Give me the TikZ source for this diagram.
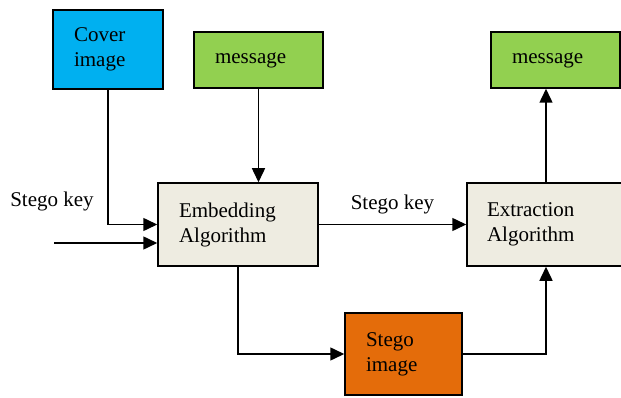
\documentclass[tikz,border=0pt]{standalone}
\usepackage{fontspec}
\setmainfont{Liberation Serif}
\usetikzlibrary{arrows.meta}
\definecolor{coverblue}{RGB}{0,176,240}
\definecolor{msggreen}{RGB}{146,208,80}
\definecolor{algobeige}{RGB}{238,236,225}
\definecolor{stegoorange}{RGB}{228,108,10}
\begin{document}
\begin{tikzpicture}[x=1pt,y=-1pt,
    every node/.style={font=\fontsize{21}{25}\selectfont},
    box/.style={draw=black, line width=1.5pt, align=left, inner xsep=21pt, inner ysep=0pt},
    arr/.style={line width=1.5pt, -{Triangle[length=14pt,width=13pt]}}]
  \useasboundingbox (0,0) rectangle (621,398);
  % boxes
  \node[box, fill=coverblue, text width=68pt, minimum height=79pt] (cover) at (108,49.5) {Cover\\image};
  \node[box, fill=msggreen, text width=87pt, minimum height=56pt] (msgone) at (258.5,60) {message};
  \node[box, fill=msggreen, text width=87pt, minimum height=56pt] (msgtwo) at (555.5,60) {message};
  \node[box, fill=algobeige, text width=118pt, minimum height=83pt] (emb) at (238,224.5) {Embedding\\Algorithm};
  \node[box, fill=algobeige, inner xsep=20pt, text width=125pt, minimum height=83pt] (extract) at (549.5,224.5) {Extraction\\Algorithm};
  \node[box, fill=stegoorange, text width=75pt, minimum height=82pt] (stego) at (403.5,354) {Stego\\image};
  \node (keytxt) at (52,201) {Stego key};
  \coordinate (keyin) at (54,243);
  \coordinate (upx) at (546,0);
  % connectors
  \draw[arr] (cover.south) |- (emb.west);
  \draw[arr] (keyin) -- (keyin -| emb.west);
  \draw[arr] (msgone.south) -- (msgone.south |- emb.north);
  \draw[arr] (emb.east) -- node[above=6pt] (keylbl) {Stego key} (extract.west);
  \draw[arr] (emb.south) |- (stego.west);
  \draw[arr] (stego.east) -| (upx |- extract.south);
  \draw[arr] (upx |- extract.north) -- (upx |- msgtwo.south);
\end{tikzpicture}
\end{document}
